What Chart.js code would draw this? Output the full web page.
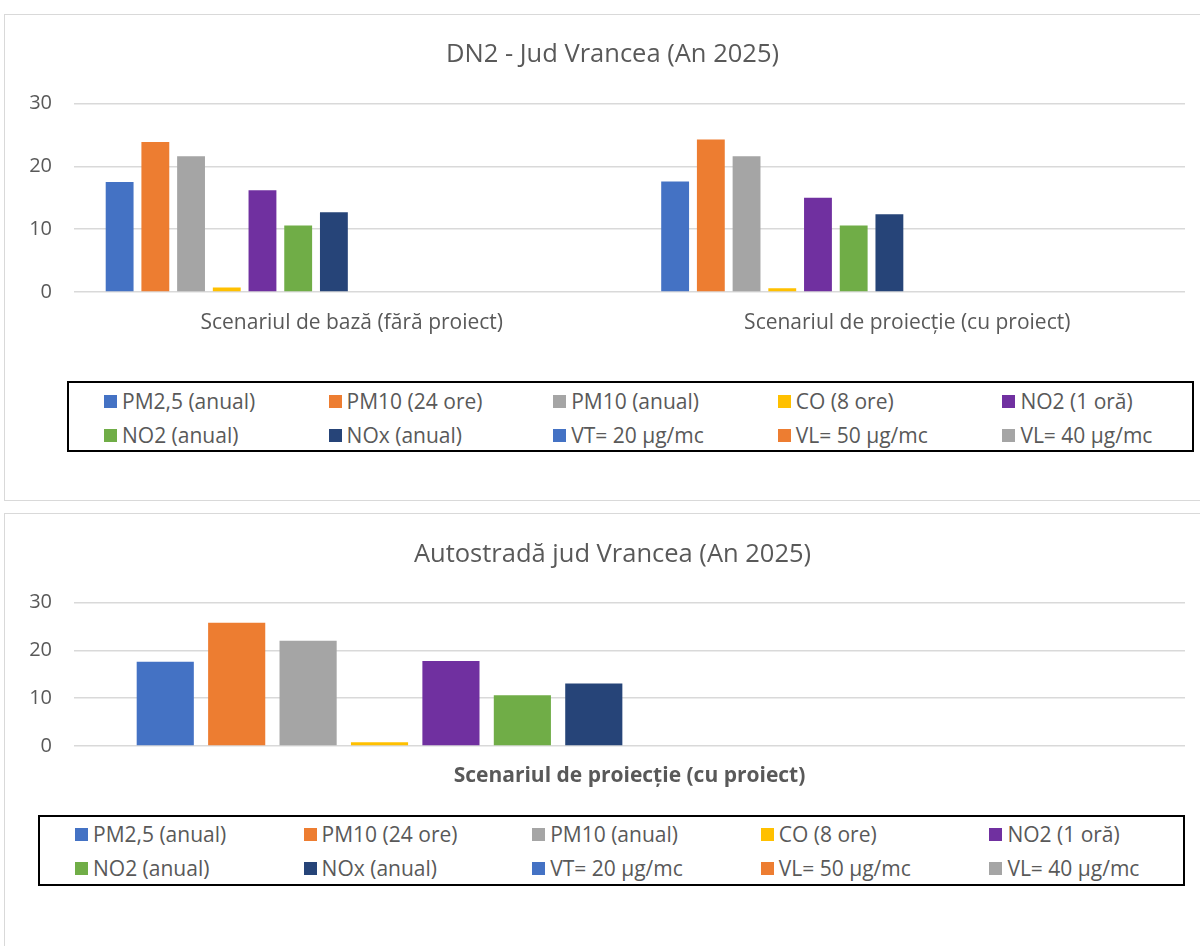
<!DOCTYPE html>
<html>
<head>
<meta charset="utf-8">
<script src="https://cdn.jsdelivr.net/npm/chart.js@4.4.1/dist/chart.umd.min.js"></script>
<style>
    body { margin: 0; width: 1200px; height: 946px; overflow: hidden; background: #fff; position: relative; font-family: "Open Sans", sans-serif; }
    .panel { position: absolute; left: 4px; width: 1230px; border: 1px solid #d9d9d9; box-sizing: border-box; }
    .chart-box { position: absolute; left: 0; width: 1200px; }
    .legend { position: absolute; border: 2px solid #000; box-sizing: border-box; height: 71px;
              display: grid; grid-template-columns: repeat(5, 1fr); grid-auto-rows: 34px; }
    .legend-item { display: flex; align-items: center; padding-left: 35px; color: #595959; font-size: 21px; white-space: nowrap; }
    .legend-item span.sw { width: 13px; height: 13px; margin-right: 5px; flex: none; }
</style>
</head>
<body>
<div class="panel" style="top:14px; height:487px;"></div>
<div class="panel" style="top:513px; height:460px;"></div>

<div class="chart-box" style="top:14px; height:330px;"><canvas id="chartDN2"></canvas></div>
<div class="legend" id="legendDN2" style="left:67px; top:381px; width:1127px; padding-top:1px;"></div>

<div class="chart-box" style="top:513px; height:280px;"><canvas id="chartAutostrada"></canvas></div>
<div class="legend" id="legendAutostrada" style="left:38px; top:815px; width:1147px;"></div>

<script>
const SERIES_NAMES = [
    'PM2,5 (anual)', 'PM10 (24 ore)', 'PM10 (anual)', 'CO (8 ore)', 'NO2 (1 oră)',
    'NO2 (anual)', 'NOx (anual)', 'VT= 20 µg/mc', 'VL= 50 µg/mc', 'VL= 40 µg/mc',
    'VL= 10 mg/mc', 'VL= 200 µg/mc', 'VL= 40 µg/mc', 'VL= 30 µg/mc'
];
const SERIES_COLORS = [
    '#4472C4', '#ED7D31', '#A5A5A5', '#FFC000', '#7030A0',
    '#70AD47', '#264478', '#4472C4', '#ED7D31', '#A5A5A5',
    '#FFC000', '#7030A0', '#70AD47', '#264478'
];
// legenda din Excel e taiata dupa primele 10 serii
const LEGEND_COUNT = 10;

const DN2_CATEGORIES = ['Scenariul de bază (fără proiect)', 'Scenariul de proiecție (cu proiect)'];
const DN2_BAZA = [17.5, 23.9, 21.6, 0.7, 16.2, 10.6, 12.7];
const DN2_PROIECT = [17.6, 24.3, 21.6, 0.6, 15.0, 10.6, 12.4];

const AUTOSTRADA_CATEGORIES = ['Scenariul de proiecție (cu proiect)'];
const AUTOSTRADA_PROIECT = [17.6, 25.8, 22.0, 0.8, 17.8, 10.6, 13.1];

const Y_TICKS = [0, 10, 20, 30];

const TEXT_COLOR = '#595959';
const GRID_COLOR = '#d9d9d9';

// titlul in Excel e centrat pe tot chenarul, nu pe zona graficului
const titleShift = {
    id: 'titleShift',
    afterLayout(chart) {
        if (chart.titleBlock) chart.titleBlock.left = 40;
    }
};

function buildDatasets(columns, barPct) {
    // columns: un array de valori pe categorie; limitele (VT/VL) nu au bare
    return SERIES_NAMES.map((name, i) => ({
        label: name,
        data: columns.map(col => (i < col.length ? col[i] : null)),
        backgroundColor: SERIES_COLORS[i],
        borderWidth: 0,
        categoryPercentage: 0.9,
        barPercentage: barPct
    }));
}

function renderLegend(id) {
    const box = document.getElementById(id);
    SERIES_NAMES.slice(0, LEGEND_COUNT).forEach((name, i) => {
        box.innerHTML += `<div class="legend-item"><span class="sw" style="background:${SERIES_COLORS[i]}"></span>${name}</div>`;
    });
}

function renderChart(canvasId, opts) {
    const ctx = document.getElementById(canvasId).getContext('2d');
    return new Chart(ctx, {
        type: 'bar',
        data: { labels: opts.labels, datasets: opts.datasets },
        plugins: [titleShift],
        options: {
            responsive: true,
            maintainAspectRatio: false,
            animation: false,
            layout: { padding: { left: 0, right: 15, top: 0, bottom: 0 } },
            plugins: {
                legend: { display: false },
                tooltip: { enabled: false },
                title: {
                    display: true,
                    text: opts.title,
                    color: TEXT_COLOR,
                    font: { family: 'Open Sans', size: 25.5, weight: 'normal' },
                    padding: opts.titlePadding
                }
            },
            scales: {
                x: {
                    grid: { display: false, drawTicks: false },
                    border: { display: false },
                    ticks: {
                        color: TEXT_COLOR,
                        padding: opts.xPadding,
                        maxRotation: 0,
                        font: { family: 'Open Sans', size: 21, weight: opts.xBold ? 'bold' : 'normal' }
                    },
                    afterFit: s => { s.height = opts.xHeight; }
                },
                y: {
                    min: 0,
                    max: 30,
                    afterBuildTicks: s => { s.ticks = Y_TICKS.map(v => ({ value: v })); },
                    grid: { color: GRID_COLOR, lineWidth: 1.5, drawTicks: false },
                    border: { display: false },
                    ticks: {
                        color: TEXT_COLOR,
                        padding: 22,
                        font: { family: 'Open Sans', size: 20 }
                    },
                    afterFit: s => { s.width = 74; }
                }
            }
        }
    });
}

renderChart('chartDN2', {
    labels: DN2_CATEGORIES,
    datasets: buildDatasets([DN2_BAZA, DN2_PROIECT], 0.78),
    title: 'DN2 - Jud Vrancea (An 2025)',
    titlePadding: { top: 25, bottom: 34 },
    xPadding: 18,
    xHeight: 52,
    xBold: false
});

renderChart('chartAutostrada', {
    labels: AUTOSTRADA_CATEGORIES,
    datasets: buildDatasets([AUTOSTRADA_PROIECT], 0.8),
    title: 'Autostradă jud Vrancea (An 2025)',
    titlePadding: { top: 26, bottom: 33 },
    xPadding: 17,
    xHeight: 47,
    xBold: true
});

renderLegend('legendDN2');
renderLegend('legendAutostrada');
</script>
</body>
</html>
